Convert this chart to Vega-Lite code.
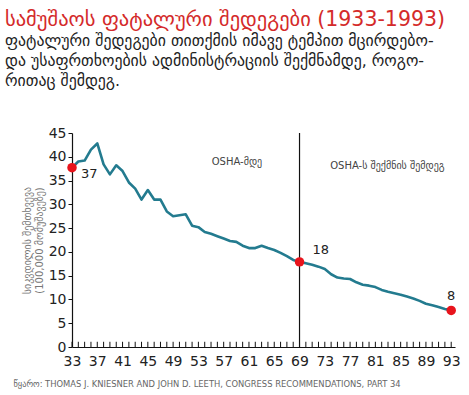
{
  "$schema": "https://vega.github.io/schema/vega-lite/v6.json",
  "width": 383,
  "height": 214,
  "autosize": "none",
  "padding": {"left": 72, "top": 133, "right": 14, "bottom": 48},
  "background": "white",
  "config": {"view": {"stroke": null}, "font": "DejaVu Sans", "axis": {"labelOverlap": false}},
  "title": {
    "text": "სამუშაოს ფატალური შედეგები (1933-1993)",
    "subtitle": ["ფატალური შედეგები თითქმის იმავე ტემპით მცირდებო-", "და უსაფრთხოების ადმინისტრაციის შექმნამდე, როგო-", "რითაც შემდეგ."],
    "anchor": "start",
    "frame": "group",
    "dx": -67,
    "offset": 37,
    "font": "DejaVu Sans",
    "fontSize": 20.5,
    "fontWeight": "normal",
    "color": "#d42a2a",
    "subtitleFont": "DejaVu Sans",
    "subtitleFontSize": 15.8,
    "subtitleColor": "#222222",
    "subtitleLineHeight": 20,
    "subtitlePadding": 4
  },
  "datasets": {
    "rate": [
      {"year": 33, "value": 37.7}, {"year": 34, "value": 39.0}, {"year": 35, "value": 39.2},
      {"year": 36, "value": 41.5}, {"year": 37, "value": 42.8}, {"year": 38, "value": 38.4},
      {"year": 39, "value": 36.3}, {"year": 40, "value": 38.2}, {"year": 41, "value": 37.0},
      {"year": 42, "value": 34.6}, {"year": 43, "value": 33.3}, {"year": 44, "value": 31.0},
      {"year": 45, "value": 33.0}, {"year": 46, "value": 31.0}, {"year": 47, "value": 31.0},
      {"year": 48, "value": 28.5}, {"year": 49, "value": 27.5}, {"year": 50, "value": 27.7},
      {"year": 51, "value": 27.9}, {"year": 52, "value": 25.5}, {"year": 53, "value": 25.2},
      {"year": 54, "value": 24.2}, {"year": 55, "value": 23.8}, {"year": 56, "value": 23.3},
      {"year": 57, "value": 22.8}, {"year": 58, "value": 22.3}, {"year": 59, "value": 22.1},
      {"year": 60, "value": 21.3}, {"year": 61, "value": 20.8}, {"year": 62, "value": 20.8},
      {"year": 63, "value": 21.3}, {"year": 64, "value": 20.8}, {"year": 65, "value": 20.4},
      {"year": 66, "value": 19.8}, {"year": 67, "value": 19.1}, {"year": 68, "value": 18.3},
      {"year": 69, "value": 17.9}, {"year": 70, "value": 17.6}, {"year": 71, "value": 17.3},
      {"year": 72, "value": 16.9}, {"year": 73, "value": 16.4}, {"year": 74, "value": 15.3},
      {"year": 75, "value": 14.6}, {"year": 76, "value": 14.4}, {"year": 77, "value": 14.3},
      {"year": 78, "value": 13.6}, {"year": 79, "value": 13.1}, {"year": 80, "value": 12.9},
      {"year": 81, "value": 12.6}, {"year": 82, "value": 12.0}, {"year": 83, "value": 11.6},
      {"year": 84, "value": 11.3}, {"year": 85, "value": 11.0}, {"year": 86, "value": 10.6},
      {"year": 87, "value": 10.2}, {"year": 88, "value": 9.7}, {"year": 89, "value": 9.1},
      {"year": 90, "value": 8.8}, {"year": 91, "value": 8.4}, {"year": 92, "value": 8.0},
      {"year": 93, "value": 7.7}
    ],
    "marks": [
      {"year": 33, "value": 37.7, "label": "37", "pos": "right"},
      {"year": 69, "value": 17.9, "label": "18", "pos": "upright"},
      {"year": 93, "value": 7.7, "label": "8", "pos": "up"}
    ],
    "eras": [
      {"year": 59.1, "value": 38.8, "label": "OSHA-მდე"},
      {"year": 82.9, "value": 38.0, "label": "OSHA-ს შექმნის შემდეგ"}
    ],
    "divider": [{"year": 69, "value": 0, "hi": 45}]
  },
  "encoding": {
    "x": {
      "field": "year", "type": "quantitative",
      "scale": {"domain": [33, 93.6], "nice": false, "zero": false},
      "axis": {
        "values": [33,37,41,45,49,53,57,61,65,69,73,77,81,85,89,93],
        "grid": false,
        "domainColor": "#111111",
        "domainWidth": 1.2,
        "ticks": false,
        "tickSize": 0,
        "labelFont": "DejaVu Sans",
        "labelFontSize": 14,
        "labelColor": "#222222",
        "labelPadding": 7,
        "labelFlush": false,
        "labelOverlap": false,
        "title": "წყარო: THOMAS J. KNIESNER AND JOHN D. LEETH, CONGRESS RECOMMENDATIONS, PART 34",
        "titleFont": "DejaVu Sans Condensed",
        "titleFontSize": 9.3,
        "titleFontWeight": "normal",
        "titleColor": "#666666",
        "titleAnchor": "start",
        "titleAlign": "left",
        "titleBaseline": "middle",
        "titleX": -59,
        "titleY": 36
      }
    },
    "y": {
      "field": "value", "type": "quantitative",
      "scale": {"domain": [0, 45], "nice": false},
      "axis": {
        "values": [0,5,10,15,20,25,30,35,40,45],
        "grid": false,
        "domainColor": "#111111",
        "domainWidth": 1.2,
        "tickColor": "#111111",
        "tickSize": 4,
        "labelFont": "DejaVu Sans",
        "labelFontSize": 14,
        "labelColor": "#222222",
        "labelPadding": 2,
        "labelOverlap": false,
        "title": ["სიკვდილის შემთხვევა", "(100,000 მომუშავეზე)"],
        "titleFont": "DejaVu Sans",
        "titleFontSize": 10,
        "titleFontWeight": "normal",
        "titleColor": "#777777",
        "titlePadding": 4,
        "titleLineHeight": 12
      }
    }
  },
  "layer": [
    {
      "data": {"name": "rate"},
      "mark": {"type": "rule", "color": "#111111", "strokeWidth": 1},
      "encoding": {"y": {"datum": 0}, "y2": {"datum": 1.1}}
    },
    {
      "data": {"name": "rate"},
      "mark": {"type": "line", "color": "#237b8f", "strokeWidth": 2.6, "strokeJoin": "round"}
    },
    {
      "data": {"name": "divider"},
      "mark": {"type": "rule", "color": "#111111", "strokeWidth": 1.2},
      "encoding": {"y2": {"field": "hi"}}
    },
    {
      "data": {"name": "marks"},
      "mark": {"type": "point", "filled": true, "color": "#e8141c", "size": 90, "opacity": 1}
    },
    {
      "data": {"name": "marks"},
      "transform": [{"filter": "datum.pos == 'right'"}],
      "mark": {"type": "text", "align": "left", "baseline": "middle", "dx": 9, "dy": 6, "fontSize": 13, "color": "#222222", "font": "DejaVu Sans"},
      "encoding": {"text": {"field": "label"}}
    },
    {
      "data": {"name": "marks"},
      "transform": [{"filter": "datum.pos == 'upright'"}],
      "mark": {"type": "text", "align": "left", "baseline": "middle", "dx": 13, "dy": -12, "fontSize": 13, "color": "#222222", "font": "DejaVu Sans"},
      "encoding": {"text": {"field": "label"}}
    },
    {
      "data": {"name": "marks"},
      "transform": [{"filter": "datum.pos == 'up'"}],
      "mark": {"type": "text", "align": "center", "baseline": "middle", "dx": 0, "dy": -14, "fontSize": 13, "color": "#222222", "font": "DejaVu Sans"},
      "encoding": {"text": {"field": "label"}}
    },
    {
      "data": {"name": "eras"},
      "mark": {"type": "text", "align": "center", "baseline": "middle", "fontSize": 10, "color": "#444444", "font": "DejaVu Sans"},
      "encoding": {"text": {"field": "label"}}
    }
  ]
}
